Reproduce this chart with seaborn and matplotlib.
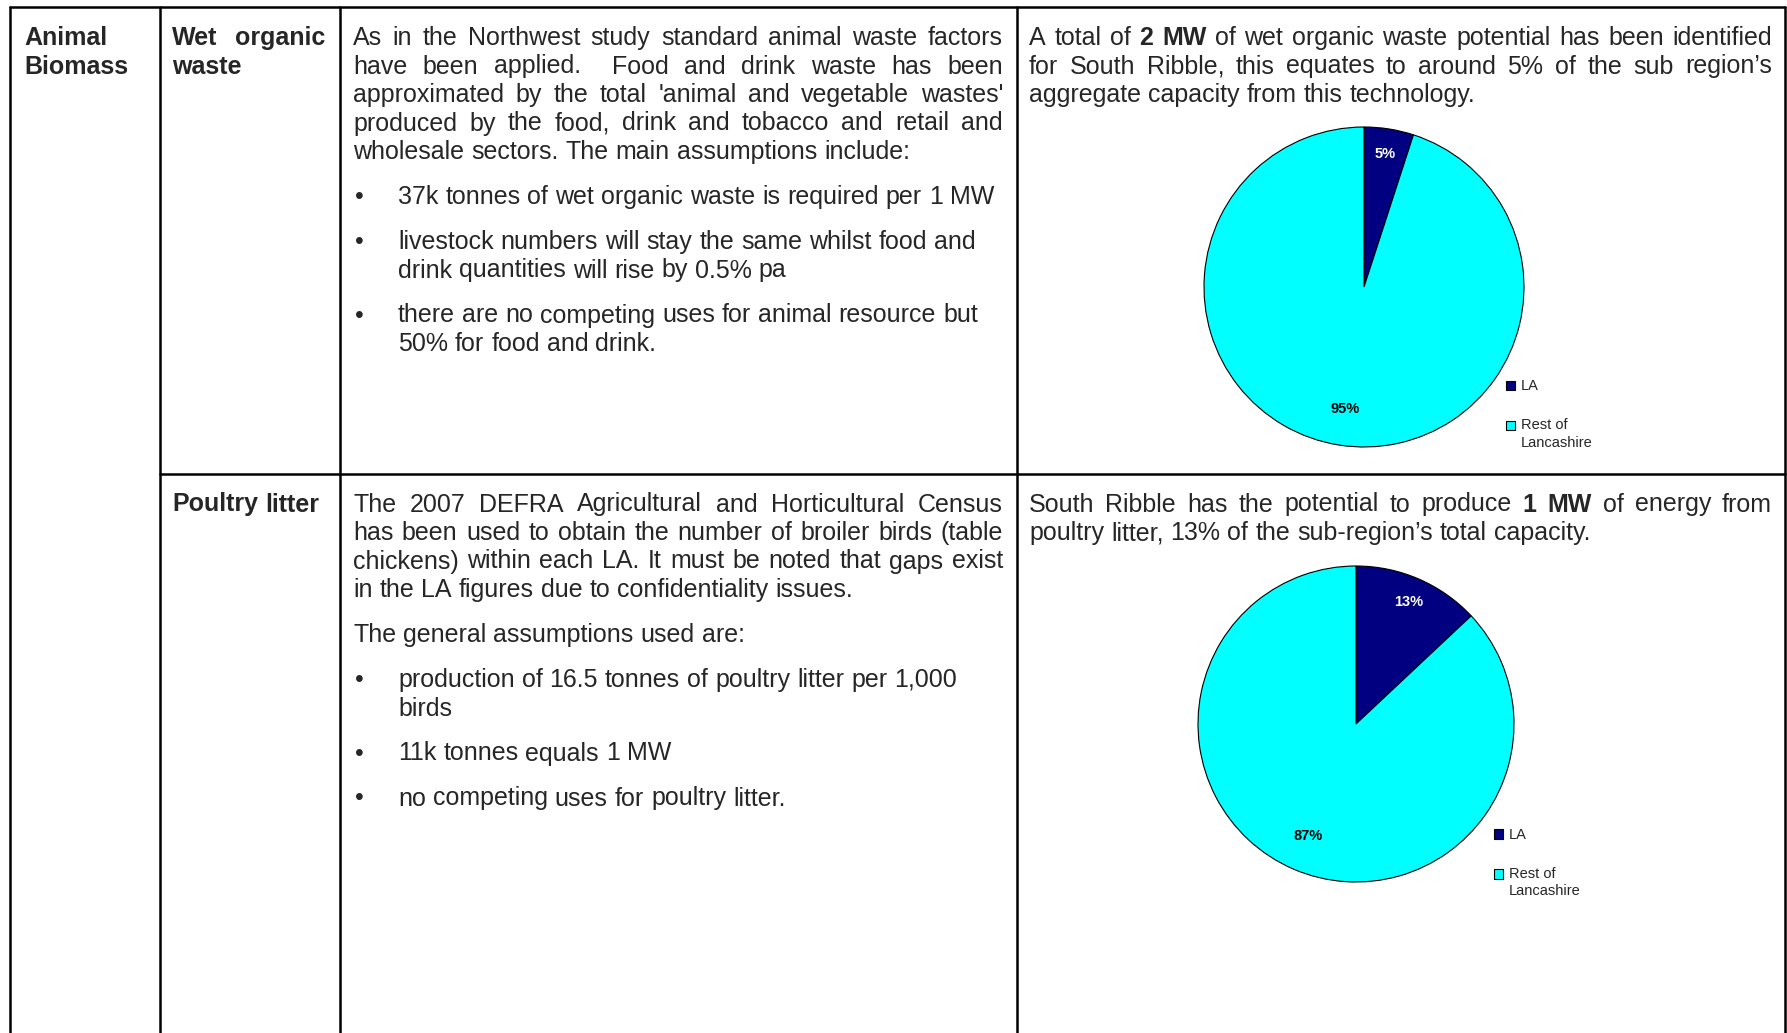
import matplotlib
matplotlib.use("Agg")
import numpy as np
import matplotlib.pyplot as plt
from matplotlib.patches import Rectangle
from matplotlib.legend_handler import HandlerPatch
import seaborn as sns

sns.set_theme(style="white")
plt.rcParams['font.family'] = ['Liberation Sans', 'DejaVu Sans']

W, H = 1787, 1033

# pie data
pie_labels = ['LA', 'Rest of\nLancashire']
wet_organic_share = [5, 95]
poultry_share = [13, 87]
pie_colors = sns.color_palette(['#000080', '#00FFFF'])

# table text ('**' marks bold words)
row1_heading = ['Animal', 'Biomass']
row1_resource = ['Wet organic', 'waste']
row1_intro = [
    "As in the Northwest study standard animal waste factors",
    "have been applied.  Food and drink waste has been",
    "approximated by the total 'animal and vegetable wastes'",
    "produced by the food, drink and tobacco and retail and",
    "wholesale sectors. The main assumptions include:",
]
row1_bullets = [
    ["37k tonnes of wet organic waste is required per 1 MW"],
    ["livestock numbers will stay the same whilst food and",
     "drink quantities will rise by 0.5% pa"],
    ["there are no competing uses for animal resource but",
     "50% for food and drink."],
]
row1_result = [
    "A total of **2 MW** of wet organic waste potential has been identified",
    "for South Ribble, this equates to around 5% of the sub region\u2019s",
    "aggregate capacity from this technology.",
]

row2_resource = ['Poultry litter']
row2_intro = [
    "The 2007 DEFRA Agricultural and Horticultural Census",
    "has been used to obtain the number of broiler birds (table",
    "chickens) within each LA. It must be noted that gaps exist",
    "in the LA figures due to confidentiality issues.",
]
row2_intro2 = ["The general assumptions used are:"]
row2_bullets = [
    ["production of 16.5 tonnes of poultry litter per 1,000", "birds"],
    ["11k tonnes equals 1 MW"],
    ["no competing uses for poultry litter."],
]
row2_result = [
    "South Ribble has the potential to produce **1 MW** of energy from",
    "poultry litter, 13% of the sub-region\u2019s total capacity.",
]

FS = 18
LINE = 28.5
PARA = 45

fig = plt.figure(figsize=(W / 100, H / 100), dpi=100)
bg = fig.add_axes([0, 0, 1, 1])
bg.set_xlim(0, W)
bg.set_ylim(H, 0)
bg.axis('off')
renderer = fig.canvas.get_renderer()

# table grid
lw = 1.8
bg.plot([10, 1785], [7, 7], color='black', lw=lw)
bg.plot([160, 1785], [474, 474], color='black', lw=lw)
for x in [10, 160, 340, 1017, 1785]:
    bg.plot([x, x], [7, H], color='black', lw=lw)


def tokens(line):
    out = []
    bold = False
    for tok in line.split(' '):
        if tok.startswith('**'):
            bold = True
            tok = tok[2:]
        end = tok.endswith('**')
        if end:
            tok = tok[:-2]
        out.append((tok, bold))
        if end:
            bold = False
    return out


def space_width(weight):
    a = bg.text(0, 0, 'n n', fontsize=FS, fontweight=weight)
    b = bg.text(0, 0, 'nn', fontsize=FS, fontweight=weight)
    w = a.get_window_extent(renderer).width - b.get_window_extent(renderer).width
    a.remove()
    b.remove()
    return w


SPACE = space_width('normal')


def put_line(x0, x1, y, line, justify=False, weight='normal'):
    toks = tokens(line)
    arts, widths = [], []
    for word, b in toks:
        t = bg.text(0, y, word, fontsize=FS, va='baseline', ha='left',
                    fontweight='bold' if (b or weight == 'bold') else 'normal')
        arts.append(t)
        widths.append(t.get_window_extent(renderer).width if word else 0)
    if justify and len(toks) > 1:
        gap = (x1 - x0 - sum(widths)) / (len(toks) - 1)
    else:
        gap = SPACE
    x = x0
    for t, w in zip(arts, widths):
        t.set_x(x)
        x += w + gap


def put_para(x0, x1, y, lines, justify=True, weight='normal'):
    for i, line in enumerate(lines):
        put_line(x0, x1, y + i * LINE, line, justify and i < len(lines) - 1, weight)
    return y + (len(lines) - 1) * LINE + PARA


def put_bullets(y, bullets):
    for item in bullets:
        bg.text(359, y, '\u2022', fontsize=FS, va='baseline', ha='center')
        y = put_para(398, 1003, y, item, justify=False)
    return y


# row 1
b1 = 45
put_para(24, 150, b1, row1_heading, justify=False, weight='bold')
put_para(172, 325, b1, row1_resource, justify=True, weight='bold')
y = put_para(353, 1003, b1, row1_intro)
put_bullets(y, row1_bullets)
put_para(1029, 1772, b1, row1_result)

# row 2
b2 = 511.5
put_para(172, 325, b2, row2_resource, justify=False, weight='bold')
y = put_para(353, 1003, b2, row2_intro)
y = put_para(353, 1003, y, row2_intro2)
put_bullets(y, row2_bullets)
put_para(1029, 1772, b2, row2_result)


# legend key for the two-line label sits on its first line
def first_line_key(legend, orig_handle, xdescent, ydescent, width, height, fontsize):
    return Rectangle((-xdescent, -ydescent + 6.5), width, height)


def pie_chart(cx, cy, r, shares, legend_xy):
    ax = fig.add_axes([(cx - r) / W, 1 - (cy + r) / H, 2 * r / W, 2 * r / H])
    wedges, _ = ax.pie(shares, colors=pie_colors, startangle=90, counterclock=False,
                       wedgeprops=dict(edgecolor='black', linewidth=0.8))
    ax.set_xlim(-1, 1)
    ax.set_ylim(-1, 1)
    ax.set_aspect('equal')
    dist = [0.84, 0.77]
    tcol = ['white', 'black']
    for w, s, d, c in zip(wedges, shares, dist, tcol):
        ang = np.deg2rad((w.theta1 + w.theta2) / 2)
        ax.text(d * np.cos(ang), d * np.sin(ang), f'{s}%', ha='center', va='center',
                fontsize=10.5, fontweight='bold', color=c)
    leg = ax.legend(wedges, pie_labels, loc='upper left', bbox_to_anchor=legend_xy,
                    bbox_transform=bg.transData, frameon=False, fontsize=10.5,
                    handlelength=0.62, handleheight=0.62, handletextpad=0.4,
                    labelspacing=1.7, borderpad=0, borderaxespad=0,
                    handler_map={wedges[1]: HandlerPatch(patch_func=first_line_key)})
    for t in leg.get_texts():
        t.set_linespacing(1.3)


pie_chart(1364, 287, 160, wet_organic_share, (1506, 379.5))
pie_chart(1356, 724, 158, poultry_share, (1494, 828))

fig.savefig('out.png', dpi=100)
